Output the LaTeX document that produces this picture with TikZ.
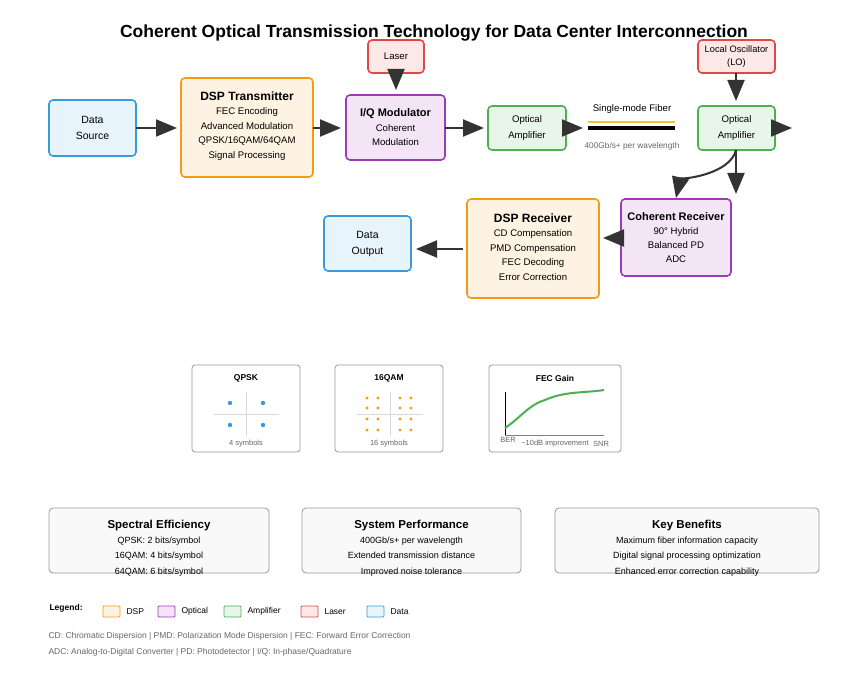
\documentclass[tikz,border=0pt]{standalone}
\usepackage{fontspec}
\setmainfont{Liberation Sans}
\usetikzlibrary{arrows.meta}
\definecolor{bluB}{HTML}{3A9AD9}\definecolor{bluF}{HTML}{E8F4FB}
\definecolor{orB}{HTML}{F39C12}\definecolor{orF}{HTML}{FEF3E2}
\definecolor{puB}{HTML}{9B3BB5}\definecolor{puF}{HTML}{F3E5F5}
\definecolor{grB}{HTML}{4CAF50}\definecolor{grF}{HTML}{E8F5E9}
\definecolor{reB}{HTML}{E04848}\definecolor{reF}{HTML}{FDE8E8}
\definecolor{dk}{HTML}{333333}\definecolor{gt}{HTML}{666666}
\begin{document}
\begin{tikzpicture}[x=1pt,y=-1pt,
 box/.style={rounded corners=4pt,line width=1.6pt},
 blk/.style={box,draw=bluB,fill=bluF},
 org/.style={box,draw=orB,fill=orF},
 pur/.style={box,draw=puB,fill=puF},
 grn/.style={box,draw=grB,fill=grF},
 red/.style={box,draw=reB,fill=reF},
 arr/.style={draw=dk,line width=2pt,-{Triangle[length=21pt,width=17pt]}},
 t/.style={font=\fontsize{9.6}{14.5}\selectfont,align=center},
 pan/.style={rounded corners=3pt,draw=gray!80,line width=0.8pt,fill=white},
 sm/.style={font=\fontsize{7.5}{8}\selectfont,text=gt},
 bb/.style={rounded corners=4pt,draw=gray!80,line width=0.8pt,fill=gray!5}]
\useasboundingbox (0,0) rectangle (857,690);
\node[font=\bfseries\fontsize{17.5}{20}\selectfont] (title) at (434,33) {Coherent Optical Transmission Technology for Data Center Interconnection};
% boxes
\draw[blk] (49,100) rectangle (136,156); \node[t,font=\fontsize{10.5}{16}\selectfont] (ds) at (92.5,128) {Data\\Source};
\draw[org] (181,78) rectangle (313,177);
\node[t] (dtx) at (247,126) {{\bfseries\fontsize{12}{14}\selectfont DSP Transmitter}\\FEC Encoding\\Advanced Modulation\\QPSK/16QAM/64QAM\\Signal Processing};
\draw[red] (368,40) rectangle (424,73); \node[t] (las) at (396,56.5) {Laser};
\draw[pur] (346,95) rectangle (445,160);
\node[t] (iq) at (395.5,127.5) {{\bfseries\fontsize{11}{13}\selectfont I/Q Modulator}\\Coherent\\Modulation};
\draw[grn] (488,106) rectangle (566,150); \node[t,font=\fontsize{9.6}{16}\selectfont] (a1) at (527,128) {Optical\\Amplifier};
\draw[grn] (698,106) rectangle (775,150); \node[t,font=\fontsize{9.6}{16}\selectfont] (a2) at (736.5,128) {Optical\\Amplifier};
\draw[red] (698,40) rectangle (775,73); \node[t,font=\fontsize{9.3}{13}\selectfont] (lo) at (736.5,56.5) {Local Oscillator\\(LO)};
\draw[pur] (621,199) rectangle (731,276);
\node[t,font=\fontsize{9.6}{14}\selectfont] (crx) at (676,238) {{\bfseries\fontsize{11}{13}\selectfont Coherent Receiver}\\90° Hybrid\\Balanced PD\\ADC};
\draw[org] (467,199) rectangle (599,298);
\node[t] (drx) at (533,247) {{\bfseries\fontsize{12}{14}\selectfont DSP Receiver}\\CD Compensation\\PMD Compensation\\FEC Decoding\\Error Correction};
\draw[blk] (324,216) rectangle (411,271); \node[t,font=\fontsize{10.5}{16}\selectfont] (dout) at (367.5,243.5) {Data\\Output};
% fiber
\draw[draw={rgb,255:red,244;green,196;blue,48},line width=2pt] (588,122) -- (675,122);
\draw[black,line width=4pt] (588,128) -- (675,128);
\node[t] (fl) at (632,109) {Single-mode Fiber};
\node[t,font=\fontsize{8.3}{10}\selectfont,text=gt] (fr) at (632,146) {400Gb/s+ per wavelength};
% coordinates
\coordinate (pA) at (136,128); \coordinate (pB) at (177,128);
\coordinate (pC) at (313,128); \coordinate (pD) at (341,128);
\coordinate (pE) at (445,128); \coordinate (pF) at (484,128);
\coordinate (pG) at (566,128); \coordinate (pH) at (583,128);
\coordinate (pI) at (775,128); \coordinate (pJ) at (792,128);
\coordinate (l1) at (396,73); \coordinate (l2) at (396,90);
\coordinate (o1) at (736,73); \coordinate (o2) at (736,101);
\coordinate (b1) at (736,150); \coordinate (b2) at (736,194);
\coordinate (c2) at (676,198);
\coordinate (r1) at (621,238); \coordinate (r2) at (603,238);
\coordinate (s1) at (463,249); \coordinate (s2) at (416,249);
\draw[arr] (pA)--(pB); \draw[arr] (pC)--(pD); \draw[arr] (pE)--(pF);
\draw[arr] (pG)--(pH); \draw[arr] (pI)--(pJ);
\draw[arr] (l1)--(l2); \draw[arr] (o1)--(o2); \draw[arr] (b1)--(b2);
\draw[arr] (b1) .. controls (730,175) and (680,180) .. (c2);
\draw[arr] (r1)--(r2); \draw[arr] (s1)--(s2);
% panels
\draw[pan] (192,365) rectangle (300,452);
\node[font=\bfseries\fontsize{8.5}{10}\selectfont] (q) at (246,378) {QPSK};
\draw[gray!30,line width=0.8pt] (214,414)--(279,414) (246,392)--(246,436);
\foreach \x/\y in {230/403,263/403,230/425,263/425} \fill[bluB] (\x,\y) circle (2.2);
\node[sm] (q4) at (246,444) {4 symbols};
\draw[pan] (335,365) rectangle (443,452);
\node[font=\bfseries\fontsize{8.5}{10}\selectfont] (q16) at (389,378) {16QAM};
\draw[gray!30,line width=0.8pt] (357,414)--(423,414) (390,392)--(390,436);
\foreach \x in {367,378,400,411} \foreach \y in {398,408,419,430} \fill[orB] (\x,\y) circle (1.6);
\node[sm] (q16s) at (389,444) {16 symbols};
\draw[pan] (489,365) rectangle (621,452);
\node[font=\bfseries\fontsize{8.5}{10}\selectfont] (fg) at (555,378) {FEC Gain};
\draw[black,line width=0.8pt] (505,392)--(505,435);
\draw[gray,line width=1pt] (505,435)--(604,435);
\draw[grB,line width=2pt] (505,428) .. controls (520,418) and (530,404) .. (545,400) .. controls (565,391) and (585,393) .. (604,390);
\node[sm] (ber) at (508,440) {BER};
\node[sm] (imp) at (555,444) {\textasciitilde10dB improvement};
\node[sm] (snr) at (601,444) {SNR};
% bottom boxes
\draw[bb] (49,508) rectangle (269,573);
\node[t,font=\fontsize{9}{15.3}\selectfont] (se) at (159,548) {{\bfseries\fontsize{11.5}{13}\selectfont Spectral Efficiency}\\QPSK: 2 bits/symbol\\16QAM: 4 bits/symbol\\64QAM: 6 bits/symbol};
\draw[bb] (302,508) rectangle (521,573);
\node[t,font=\fontsize{9}{15.3}\selectfont] (sp) at (411.5,548) {{\bfseries\fontsize{11.5}{13}\selectfont System Performance}\\400Gb/s+ per wavelength\\Extended transmission distance\\Improved noise tolerance};
\draw[bb] (555,508) rectangle (819,573);
\node[t,font=\fontsize{9}{15.3}\selectfont] (kb) at (687,548) {{\bfseries\fontsize{11.5}{13}\selectfont Key Benefits}\\Maximum fiber information capacity\\Digital signal processing optimization\\Enhanced error correction capability};
% legend
\node[font=\bfseries\fontsize{8.5}{10}\selectfont,anchor=west] (lg) at (46,608) {Legend:};
\foreach \xx/\st/\lab in {103/org/DSP,158/pur/Optical,224/grn/Amplifier,301/red/Laser,367/blk/Data}{
 \draw[\st,rounded corners=1pt,line width=0.8pt] (\xx,606) rectangle (\xx+17,617);
 \node[font=\fontsize{8.5}{10}\selectfont,anchor=west] at (\xx+20,611.5) {\lab};}
\node[sm,font=\fontsize{8.5}{10}\selectfont,anchor=west] (f1) at (45,636) {CD: Chromatic Dispersion | PMD: Polarization Mode Dispersion | FEC: Forward Error Correction};
\node[sm,font=\fontsize{8.5}{10}\selectfont,anchor=west] (f2) at (45,652) {ADC: Analog-to-Digital Converter | PD: Photodetector | I/Q: In-phase/Quadrature};
\end{tikzpicture}
\end{document}
